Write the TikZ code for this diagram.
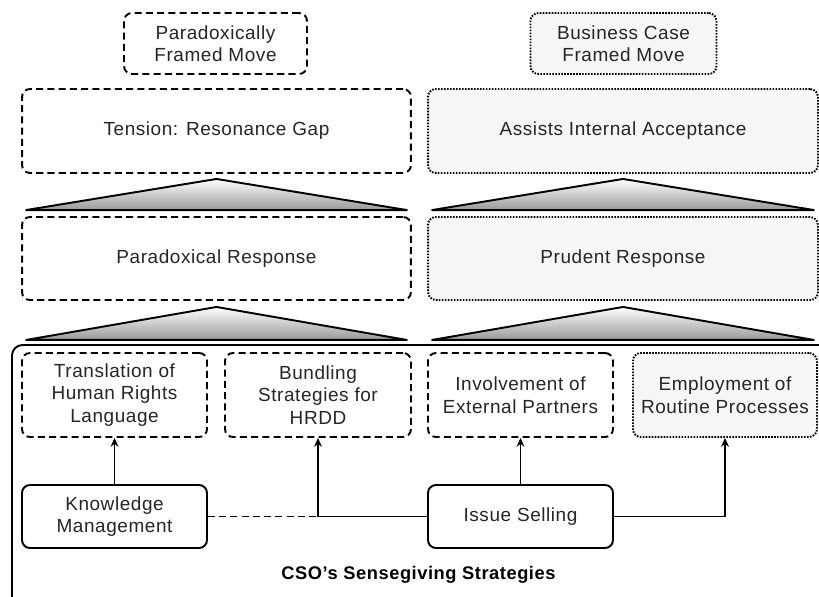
\documentclass[tikz,border=0pt]{standalone}
\usepackage{fontspec}
\setmainfont[LetterSpace=3]{Liberation Sans}
\usetikzlibrary{arrows.meta,positioning,calc}
\definecolor{txt}{HTML}{262626}
\definecolor{pale}{HTML}{F6F6F6}

\begin{document}
\begin{tikzpicture}[x=0.02cm, y=-0.02cm, >={Stealth[length=5pt, width=4.5pt]}]
    \tikzset{
        a/.style={->, line width=0.9pt},
        box/.style={draw, rounded corners=4.5pt, line width=1.1pt, align=center, text=txt, font=\fontsize{10.8}{12.8}\selectfont, inner sep=2pt},
        dbox/.style={box, dash pattern=on 4pt off 2.4pt, fill=white},
        obox/.style={box, dash pattern=on 0.9pt off 0.8pt, fill=pale},
        sbox/.style={box, fill=white},
        tri/.style={draw, line width=1.1pt, line join=round, top color=white, bottom color=black!40}
    }

    \useasboundingbox (0,0) rectangle (819,596);
    \clip (0,0) rectangle (819,596);

    % framed moves
    \node [dbox, minimum width=3.66cm, minimum height=1.22cm] (pfm) at (215.5,43.5) {Paradoxically\\Framed Move};
    \node [obox, minimum width=3.72cm, minimum height=1.22cm] (bcfm) at (623.5,43.5) {Business Case\\Framed Move};

    % outcomes and responses
    \node [dbox, minimum width=7.78cm, minimum height=1.68cm] (tension) at (216.5,131) {Tension: Resonance Gap};
    \node [obox, minimum width=7.8cm, minimum height=1.68cm] (assists) at (623,131) {Assists Internal Acceptance};
    \node [dbox, minimum width=7.78cm, minimum height=1.66cm] (paradox) at (216.5,258.5) {Paradoxical Response};
    \node [obox, minimum width=7.8cm, minimum height=1.66cm] (prudent) at (623,258.5) {Prudent Response};

    % sensegiving frame
    \draw [line width=1.1pt, rounded corners=6pt] (12,700) -- (12,345) -- (900,345);

    \draw [tri] ($(paradox.north west)+(5,-6)$) -- ($(tension.south)+(0,5)$) -- ($(paradox.north east)+(-5,-6)$) -- cycle;
    \draw [tri] ($(prudent.north west)+(5,-6)$) -- ($(assists.south)+(0,5)$) -- ($(prudent.north east)+(-5,-6)$) -- cycle;
    \draw [tri] ($(paradox.south west)+(5,39)$) -- ($(paradox.south)+(0,6)$) -- ($(paradox.south east)+(-5,39)$) -- cycle;
    \draw [tri] ($(prudent.south west)+(5,39)$) -- ($(prudent.south)+(0,6)$) -- ($(prudent.south east)+(-5,39)$) -- cycle;

    % strategies
    \node [dbox, minimum width=3.7cm, minimum height=1.68cm] (transl) at (114.5,395) {Translation of\\Human Rights\\Language};
    \node [dbox, minimum width=3.72cm, minimum height=1.68cm] (bundle) at (318,395) {Bundling\\Strategies for\\HRDD};
    \node [dbox, minimum width=3.7cm, minimum height=1.68cm] (involve) at (520.5,395) {Involvement of\\External Partners};
    \node [obox, minimum width=3.68cm, minimum height=1.68cm] (employ) at (725,395) {Employment of\\Routine Processes};

    \node [sbox, minimum width=3.7cm, minimum height=1.26cm] (km) at (114.5,516.5) {Knowledge\\Management};
    \node [sbox, minimum width=3.7cm, minimum height=1.26cm] (issue) at (520.5,516.5) {Issue Selling};

    \coordinate (jn) at (bundle |- km);

    \draw [a] (km) -- (transl);
    \draw [line width=1pt, dash pattern=on 4pt off 2.4pt] (km) -- (jn);
    \draw [line width=1pt] (jn) -- (issue);
    \draw [a] (jn) -- (bundle);
    \draw [a] (issue) -- (involve);
    \draw [a] (issue) -| (employ);

    \node [font=\fontsize{10.4}{12}\selectfont\bfseries] (cso) at (418.5,575) {CSO’s Sensegiving Strategies};
\end{tikzpicture}
\end{document}
